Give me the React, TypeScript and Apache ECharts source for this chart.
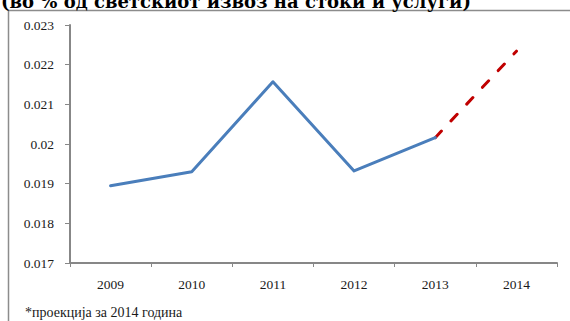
import React, { useEffect, useRef } from "react";
import * as echarts from "echarts";

const years = ["2009", "2010", "2011", "2012", "2013", "2014"];
const actualShare = [0.01895, 0.0193, 0.02157, 0.01932, 0.02016, null];
const projectedShare = [null, null, null, null, 0.02016, 0.02234];
const yTicks = ["0.017", "0.018", "0.019", "0.02", "0.021", "0.022", "0.023"];

const titleText = "(во % од светскиот извоз на стоки и услуги)";
const footnoteText = "*проекција за 2014 година";

const serif = "Liberation Serif";

export default function App() {
  const ref = useRef<HTMLDivElement>(null);

  useEffect(() => {
    if (!ref.current) return;
    const chart = echarts.init(ref.current, null, { renderer: "svg" });
    const toSeries = (arr: (number | null)[]) => arr.map((v) => (v === null ? "-" : v));
    chart.setOption({
      animation: false,
      backgroundColor: "#ffffff",
      grid: { left: 70, right: 13, top: 25, bottom: 58, containLabel: false },
      xAxis: {
        type: "category",
        data: years,
        boundaryGap: true,
        axisLine: { lineStyle: { color: "#878787", width: 2 } },
        axisTick: { show: true, length: 4, lineStyle: { color: "#878787", width: 1 } },
        axisLabel: { margin: 14, fontFamily: serif, fontSize: 13.5, color: "#1a1a1a" },
        splitLine: { show: false },
      },
      yAxis: {
        type: "value",
        min: 0.017,
        max: 0.023,
        interval: 0.001,
        axisLine: { show: true, lineStyle: { color: "#878787", width: 2 } },
        axisTick: { show: true, length: 5, lineStyle: { color: "#878787", width: 1 } },
        axisLabel: {
          margin: 16,
          fontFamily: serif,
          fontSize: 13.5,
          color: "#1a1a1a",
          formatter: (v: number) => {
            const idx = Math.round((v - 0.017) / 0.001);
            return yTicks[idx] ?? String(v);
          },
        },
        splitLine: { show: false },
      },
      series: [
        {
          type: "line",
          data: toSeries(actualShare),
          symbol: "none",
          connectNulls: false,
          lineStyle: { color: "#4a7ebb", width: 3, cap: "round", join: "round" },
          z: 3,
        },
        {
          type: "line",
          data: toSeries(projectedShare),
          symbol: "none",
          connectNulls: false,
          lineStyle: { color: "#c00000", width: 3, type: [9, 14], cap: "round" },
          z: 2,
        },
      ],
      graphic: [
        {
          type: "rect",
          shape: { x: 8.5, y: 10.5, width: 600, height: 400 },
          style: { fill: "none", stroke: "#8c8c8c", lineWidth: 1.5 },
          silent: true,
        },
        {
          type: "text",
          left: 1,
          top: -8,
          style: {
            text: titleText,
            font: `bold 18px "DejaVu Serif"`,
            fill: "#000000",
          },
        },
        {
          type: "text",
          left: 25,
          top: 305,
          style: {
            text: footnoteText,
            font: `14px "${serif}"`,
            fill: "#1a1a1a",
          },
        },
      ],
    });
    return () => chart.dispose();
  }, []);

  return (
    <div
      ref={ref}
      style={{ position: "fixed", left: 0, top: 0, width: 570, height: 321 }}
    />
  );
}
